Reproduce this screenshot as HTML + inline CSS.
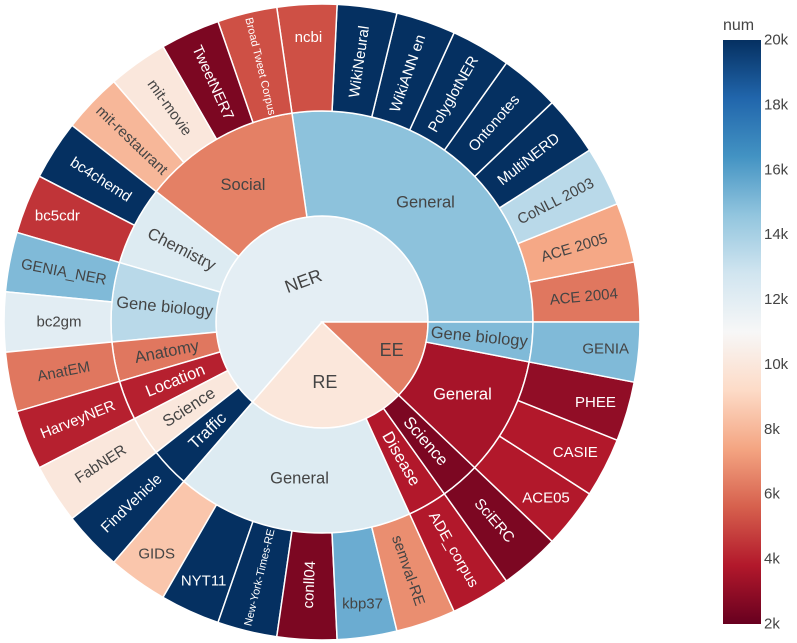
<!DOCTYPE html>
<html><head><meta charset="utf-8"><style>
html,body{margin:0;padding:0;background:#fff;}
svg{display:block;font-family:"Liberation Sans",Arial,sans-serif;}
</style></head><body>
<svg id="chart" width="797" height="643" viewBox="0 0 797 643" xmlns="http://www.w3.org/2000/svg">
<defs>
<linearGradient id="cbgrad" x1="0" y1="1" x2="0" y2="0">
<stop offset="0" stop-color="#67001f"/><stop offset="0.1" stop-color="#b2182b"/><stop offset="0.2" stop-color="#d6604d"/><stop offset="0.3" stop-color="#f4a582"/><stop offset="0.4" stop-color="#fddbc7"/><stop offset="0.5" stop-color="#f7f7f7"/><stop offset="0.6" stop-color="#d1e5f0"/><stop offset="0.7" stop-color="#92c5de"/><stop offset="0.8" stop-color="#4393c3"/><stop offset="0.9" stop-color="#2166ac"/><stop offset="1" stop-color="#053061"/>
</linearGradient>
</defs>
<g id="rings"></g>
<g id="colorbar">
<text x="723" y="30" font-size="16" fill="#444">num</text>
<rect x="723" y="40" width="38" height="584" fill="url(#cbgrad)"/>
</g>
</svg>
<script>
// ---- data ----
const taskNames = ["NER","RE","EE"];
const groupNames = ["General","Social","Chemistry","Gene biology","Anatomy","Location","Science","Traffic","General","Disease","Science","General","Gene biology"];
const groupTask = [0,0,0,0,0,0,0,0,1,1,1,2,2];
const leafNames = ["ACE 2004","ACE 2005","CoNLL 2003","MultiNERD","Ontonotes","PolyglotNER","WikiANN en","WikiNeural","ncbi",
 "Broad Tweet Corpus","TweetNER7","mit-movie","mit-restaurant","bc4chemd","bc5cdr","GENIA_NER","bc2gm","AnatEM","HarveyNER","FabNER","FindVehicle",
 "GIDS","NYT11","New-York-Times-RE","conll04","kbp37","semval-RE","ADE_corpus","SciERC","ACE05","CASIE","PHEE","GENIA"];
const leafGroup = [0,0,0,0,0,0,0,0,0, 1,1,1,1,2,2,3,3,4,5,6,7, 8,8,8,8,8,8,9,10,11,11,11,12];
const leafNum = [6200,7500,13500,20000,20000,20000,20000,20000,5200,
 5200,2500,10000,8000,20000,4500,15000,12000,6200,4000,10000,20000,
 8500,20000,20000,2500,15500,6800,3800,2500,3800,3800,3000,15000];
const leafWeight = leafNames.map(()=>1);
const tickValues = [2000,4000,6000,8000,10000,12000,14000,16000,18000,20000];
const tickLabels = ["2k","4k","6k","8k","10k","12k","14k","16k","18k","20k"];
// label orientation (r = radial, h = horizontal)
const leafOrient = ["r","r","r","r","r","r","r","r","h","r","r","r","r","r","h","r","r","r","r","r","r","h","h","r","r","h","r","r","r","h","h","h","h"];
const leafFont = [15,15,15,15,15,15,15,15,15,11,15,15,15,15,15,15,15,15,15,15,15,15,15,11,15,15,15,15,15,15,15,15,15];
const groupOrient = ["h","h","r","r","r","r","r","r","h","r","r","h","r"];
const taskRot = [-20,0,0];
const taskLabelR = [45,60,75];

// ---- scales ----
const cx=322, cy=322, R0=106, R1=211, R2=318;
const cmin=2000, cmax=20000;
const stops=["#67001f","#b2182b","#d6604d","#f4a582","#fddbc7","#f7f7f7","#d1e5f0","#92c5de","#4393c3","#2166ac","#053061"];
function hex(h){return [1,3,5].map(i=>parseInt(h.substr(i,2),16));}
function color(v){
  let t=Math.max(0,Math.min(1,(v-cmin)/(cmax-cmin)))*10;
  let i=Math.min(9,Math.floor(t)), f=t-i;
  const a=hex(stops[i]), b=hex(stops[i+1]);
  return "rgb("+a.map((x,k)=>Math.round(x+(b[k]-x)*f)).join(",")+")";
}
function textColor(v){return (v<5800||v>16500)?"#fff":"#444";}
function cbY(v){return 624-(v-cmin)/(cmax-cmin)*584;}
const totalW = leafWeight.reduce((a,b)=>a+b,0);
function ang(w){return w/totalW*360;}
function pt(a,r){const t=a*Math.PI/180;return [cx+r*Math.cos(t), cy-r*Math.sin(t)];}
function arc(a0,a1,ri,ro){
  const large=(a1-a0)>180?1:0;
  const p0=pt(a0,ro),p1=pt(a1,ro);
  let d="M"+p0[0]+","+p0[1]+" A"+ro+","+ro+" 0 "+large+" 0 "+p1[0]+","+p1[1];
  if(ri>0){const q1=pt(a1,ri),q0=pt(a0,ri);d+=" L"+q1[0]+","+q1[1]+" A"+ri+","+ri+" 0 "+large+" 1 "+q0[0]+","+q0[1];}
  else d+=" L"+cx+","+cy;
  return d+" Z";
}
const NS="http://www.w3.org/2000/svg";
const g=document.getElementById("rings");
function addSector(a0,a1,ri,ro,v,name){
  const p=document.createElementNS(NS,"path");
  p.setAttribute("d",arc(a0,a1,ri,ro));
  p.setAttribute("fill",color(v));
  p.setAttribute("stroke","#fff");
  p.setAttribute("stroke-width","1.5");
  
  
  g.appendChild(p);
}
function addLabel(txt,a,r,orient,size,v,name,extraRot){
  const [x,y]=pt(a,r);
  let rot=0;
  if(orient==="r"){rot=-a;while(rot<=-90)rot+=180;while(rot>90)rot-=180;}
  if(extraRot)rot=extraRot;
  const t=document.createElementNS(NS,"text");
  t.setAttribute("x",x);t.setAttribute("y",y);
  t.setAttribute("text-anchor","middle");
  t.setAttribute("dominant-baseline","central");
  t.setAttribute("font-size",size);
  t.setAttribute("fill",textColor(v));
  t.setAttribute("transform","rotate("+rot+" "+x+" "+y+")");
  t.textContent=txt;
  
  
  g.appendChild(t);
}
// aggregate
const groupW=groupNames.map(()=>0), groupS=groupNames.map(()=>0);
leafNames.forEach((n,i)=>{groupW[leafGroup[i]]+=leafWeight[i];groupS[leafGroup[i]]+=leafWeight[i]*leafNum[i];});
const groupNum=groupS.map((s,i)=>s/groupW[i]);
const taskW=taskNames.map(()=>0), taskS=taskNames.map(()=>0);
groupNames.forEach((n,i)=>{taskW[groupTask[i]]+=groupW[i];taskS[groupTask[i]]+=groupS[i];});
const taskNum=taskS.map((s,i)=>s/taskW[i]);
function slug(s){return s.toLowerCase().replace(/[^a-z0-9]+/g,"-").replace(/^-|-$/g,"");}
// tasks
let acc=0;
taskNames.forEach((n,i)=>{const a0=ang(acc),a1=ang(acc+taskW[i]);addSector(a0,a1,0,R0,taskNum[i],"task-"+slug(n));acc+=taskW[i];});
acc=0;
groupNames.forEach((n,i)=>{const a0=ang(acc),a1=ang(acc+groupW[i]);addSector(a0,a1,R0,R1,groupNum[i],"group-"+slug(taskNames[groupTask[i]])+"-"+slug(n));acc+=groupW[i];});
acc=0;
leafNames.forEach((n,i)=>{const a0=ang(acc),a1=ang(acc+leafWeight[i]);addSector(a0,a1,R1,R2,leafNum[i],"leaf-"+slug(n));acc+=leafWeight[i];});
// labels
acc=0;
taskNames.forEach((n,i)=>{const am=ang(acc+taskW[i]/2);addLabel(n,am,taskLabelR[i],"h",18,taskNum[i],"task-label-"+slug(n),taskRot[i]);acc+=taskW[i];});
acc=0;
groupNames.forEach((n,i)=>{const am=ang(acc+groupW[i]/2);addLabel(n,am,158,groupOrient[i],16.5,groupNum[i],"group-label-"+slug(n));acc+=groupW[i];});
acc=0;
leafNames.forEach((n,i)=>{const am=ang(acc+leafWeight[i]/2);addLabel(n,am,leafOrient[i]==="h"?285:263,leafOrient[i],leafFont[i],leafNum[i],"leaf-label-"+slug(n));acc+=leafWeight[i];});
// colorbar ticks
const cb=document.getElementById("colorbar");
tickValues.forEach((v,i)=>{
  const t=document.createElementNS(NS,"text");
  t.setAttribute("x",764);t.setAttribute("y",cbY(v));
  t.setAttribute("dominant-baseline","central");
  t.setAttribute("font-size","15");t.setAttribute("fill","#444");
  t.textContent=tickLabels[i];
  
  
  cb.appendChild(t);
});
</script>
</body></html>
